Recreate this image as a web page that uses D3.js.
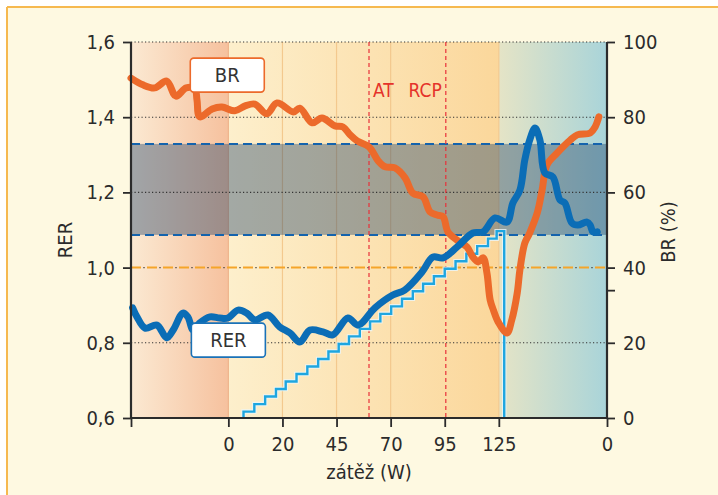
<!DOCTYPE html>
<html>
<head>
<meta charset="utf-8">
<script src="https://cdn.jsdelivr.net/npm/d3@7"></script>
<style>
  html, body { margin: 0; padding: 0; background: #ffffff; }
  svg { display: block; }
  text { font-family: "Liberation Sans Narrow", "DejaVu Sans Condensed", "Noto Sans", sans-serif; fill: #2b2b2b; }
</style>
</head>
<body>
<svg id="chart" width="718" height="495"></svg>
<script>
// ---------------- DATA ----------------
// time axis in minutes (rest phase before 0, exercise 0..5, recovery 5..7)
const xTickValues = [-1.8, 0, 1, 2, 3, 4, 5, 7];
const xTickLabels = ["", "0", "20", "45", "70", "95", "125", "0"];
const rerTicks = [0.6, 0.8, 1.0, 1.2, 1.4, 1.6];
const rerTickLabels = ["0,6", "0,8", "1,0", "1,2", "1,4", "1,6"];
const brTicks = [0, 20, 40, 60, 80, 100];
const brMinorTick = [34];

// BR (%) – orange line
const brTime = [-1.80,-1.58,-1.36,-1.14,-0.97,-0.78,-0.62,-0.58,-0.53,-0.30,-0.12,0.12,0.31,0.49,0.71,0.90,1.20,1.32,1.55,1.73,1.97,2.12,2.25,2.38,2.60,2.77,2.90,3.08,3.27,3.41,3.60,3.73,3.86,3.97,4.06,4.23,4.41,4.52,4.62,4.71,4.78,4.84,4.90,4.99,5.15,5.24,5.34,5.39,5.48,5.57,5.71,5.80,5.89,6.08,6.32,6.45,6.69,6.78,6.85];
const brValues = [90.4,88.6,87.8,89.6,85.6,87.8,87.5,84.6,80.1,82.2,82.7,81.7,83.0,83.5,80.9,83.8,81.4,82.4,78.5,79.8,77.7,77.4,75.3,73.7,72.1,68.4,66.8,66.5,63.8,59.8,58.8,54.8,54.0,53.5,49.5,47.3,45.5,42.8,41.5,42.6,38.6,31.4,28.7,25.5,22.6,26.1,33.2,39.4,46.5,49.2,54.5,60.6,67.3,70.5,73.9,75.3,75.8,77.4,80.1];

// RER – dark blue line
const rerTime = [-1.77,-1.69,-1.54,-1.32,-1.14,-1.02,-0.84,-0.75,-0.65,-0.53,-0.34,-0.16,-0.01,0.18,0.34,0.49,0.73,0.95,1.14,1.32,1.51,1.75,1.93,2.21,2.40,2.71,3.04,3.26,3.58,3.78,3.97,4.23,4.52,4.71,4.93,5.15,5.26,5.39,5.48,5.57,5.67,5.76,5.85,6.00,6.13,6.22,6.35,6.46,6.63,6.69,6.74,6.82];
const rerValues = [0.893,0.869,0.839,0.847,0.813,0.834,0.879,0.869,0.834,0.853,0.869,0.866,0.866,0.887,0.879,0.861,0.874,0.842,0.826,0.802,0.834,0.829,0.821,0.866,0.847,0.893,0.927,0.940,0.988,1.028,1.026,1.055,1.092,1.095,1.132,1.121,1.172,1.206,1.286,1.339,1.371,1.339,1.252,1.241,1.180,1.172,1.119,1.113,1.121,1.113,1.095,1.095];

// load steps (plotted on the BR % scale) – light blue stair line
const stepTimes = [0.28,0.48,0.68,0.88,1.06,1.26,1.46,1.66,1.85,2.04,2.23,2.43,2.62,2.81,3.01,3.21,3.41,3.60,3.80,4.00,4.20,4.40,4.60,4.80,4.96,5.10];
const stepLevels = [1.7,3.7,5.7,7.7,9.7,11.7,13.7,15.7,17.7,19.7,21.7,23.7,25.7,27.7,29.7,31.7,33.7,35.7,37.7,39.7,41.7,43.7,45.7,47.7,49.7,0];

// shaded RER band and reference line
const rerBand = [1.087, 1.329];
const rerRef = 1.0;
// thresholds
const thresholdNames = ["AT", "RCP"];
const thresholdTimes = [2.6, 4.02];
// phases
const phaseStarts = [-1.8, 0, 5];
const phaseEnds = [0, 5, 7];

// ---------------- CHART ----------------
const svg = d3.select("#chart");
const margin = { left: 131, right: 111, top: 42, bottom: 77 };
const W = 718, H = 495;
const x = d3.scaleLinear().domain([-1.8, 7]).range([margin.left, W - margin.right]);
const yR = d3.scaleLinear().domain([0.6, 1.6]).range([H - margin.bottom, margin.top]);
const yB = d3.scaleLinear().domain([0, 100]).range([H - margin.bottom, margin.top]);
const x0 = x.range()[0], x1 = x.range()[1], y0 = yR.range()[0], y1 = yR.range()[1];

// frame
svg.append("rect").attr("x", 7).attr("y", 7).attr("width", W - 7).attr("height", H - 7).attr("fill", "#fef9e1");
svg.append("line").attr("x1", 7).attr("x2", W).attr("y1", 7).attr("y2", 7).attr("stroke", "#f6b94f").attr("stroke-width", 2);
svg.append("line").attr("x1", 7).attr("x2", 7).attr("y1", 7).attr("y2", H).attr("stroke", "#f6b94f").attr("stroke-width", 2);

// gradients
const defs = svg.append("defs");
const gradStops = [
  ["#fbe9d2", "#f6c19e"],
  ["#fdefcc", "#fbd79b"],
  ["#e5e4c6", "#a9d4d9"]
];
gradStops.forEach((c, i) => {
  const g = defs.append("linearGradient").attr("id", "g" + i).attr("x1", "0").attr("x2", "1").attr("y1", "0").attr("y2", "0");
  g.append("stop").attr("offset", "0").attr("stop-color", c[0]);
  g.append("stop").attr("offset", "1").attr("stop-color", c[1]);
});
phaseStarts.forEach((s, i) => {
  svg.append("rect")
    .attr("x", x(s)).attr("y", y1)
    .attr("width", x(phaseEnds[i]) - x(s)).attr("height", y0 - y1)
    .attr("fill", "url(#g" + i + ")");
});
// faint phase/stage lines
[0, 1, 2, 3, 5].forEach(t => {
  svg.append("line").attr("x1", x(t)).attr("x2", x(t)).attr("y1", y1).attr("y2", y0)
    .attr("stroke", t === 0 ? "#efb48c" : "#f3c98e").attr("stroke-width", 1.2);
});

// shaded band
svg.append("rect")
  .attr("x", x0).attr("y", yR(rerBand[1]))
  .attr("width", x1 - x0).attr("height", yR(rerBand[0]) - yR(rerBand[1]))
  .attr("fill", "rgb(15,55,100)").attr("fill-opacity", 0.38);

// dotted grid
rerTicks.filter(v => v !== 0.6 && v !== 1.0).forEach(v => {
  svg.append("line").attr("x1", x0).attr("x2", x1).attr("y1", yR(v)).attr("y2", yR(v))
    .attr("stroke", "#333").attr("stroke-width", 1.1).attr("stroke-dasharray", "1.2,2.3");
});
// reference line at 1.0: orange dashes with dark dots
svg.append("line").attr("x1", x0).attr("x2", x1).attr("y1", yR(rerRef)).attr("y2", yR(rerRef))
  .attr("stroke", "#f5a52a").attr("stroke-width", 2).attr("stroke-dasharray", "10,6");
svg.append("line").attr("x1", x0).attr("x2", x1).attr("y1", yR(rerRef)).attr("y2", yR(rerRef))
  .attr("stroke", "#333").attr("stroke-width", 1.1).attr("stroke-dasharray", "1.2,14.8").attr("stroke-dashoffset", -12.4);

// band dashed borders
rerBand.forEach(v => {
  svg.append("line").attr("x1", x0).attr("x2", x1).attr("y1", yR(v)).attr("y2", yR(v))
    .attr("stroke", "#1463ad").attr("stroke-width", 2).attr("stroke-dasharray", "9,5");
});

// threshold lines
thresholdTimes.forEach((t, i) => {
  svg.append("line").attr("x1", x(t)).attr("x2", x(t)).attr("y1", y1).attr("y2", y0)
    .attr("stroke", "#e8303a").attr("stroke-width", 1.2).attr("stroke-dasharray", "4,3");
});
svg.append("text").attr("x", x(thresholdTimes[0]) + 4).attr("y", 97).attr("font-size", 19)
  .style("fill", "#e5332a").text(thresholdNames[0]);
svg.append("text").attr("x", x(thresholdTimes[1]) - 4).attr("y", 97).attr("font-size", 19)
  .attr("text-anchor", "end").style("fill", "#e5332a").text(thresholdNames[1]);

// step line (load)
const stepData = stepTimes.map((t, i) => [t, stepLevels[i]]);
stepData.unshift([stepTimes[0], 0]);
const stepLine = d3.line().x(d => x(d[0])).y(d => yB(d[1])).curve(d3.curveStepAfter);
svg.append("path").datum(stepData).attr("d", stepLine).attr("fill", "none")
  .attr("stroke", "#e8f6fb").attr("stroke-width", 4.5).attr("stroke-opacity", 0.8);
svg.append("path").datum(stepData).attr("d", stepLine).attr("fill", "none")
  .attr("stroke", "#1ea6e0").attr("stroke-width", 2.4);

// BR line
const brLine = d3.line().x((d, i) => x(brTime[i])).y(d => yB(d)).curve(d3.curveCatmullRom.alpha(0.5));
svg.append("path").datum(brValues).attr("d", brLine).attr("fill", "none")
  .attr("stroke", "#ec6a2b").attr("stroke-width", 7).attr("stroke-linejoin", "round").attr("stroke-linecap", "round");

// RER line
const rerLine = d3.line().x((d, i) => x(rerTime[i])).y(d => yR(d)).curve(d3.curveCatmullRom.alpha(0.5));
svg.append("path").datum(rerValues).attr("d", rerLine).attr("fill", "none")
  .attr("stroke", "#0b6db6").attr("stroke-width", 7).attr("stroke-linejoin", "round").attr("stroke-linecap", "round");

// axes
const axisColor = "#2b2b2b";
const leftAxis = d3.axisLeft(yR).tickValues(rerTicks).tickFormat((d, i) => rerTickLabels[i]).tickSize(8).tickPadding(8);
const gL = svg.append("g").attr("transform", `translate(${x0},0)`).call(leftAxis);
const rightAxis = d3.axisRight(yB).tickValues(brTicks.concat(brMinorTick)).tickFormat(d => brTicks.includes(d) ? d : "").tickSize(8).tickPadding(8);
const gR = svg.append("g").attr("transform", `translate(${x1},0)`).call(rightAxis);
const bottomAxis = d3.axisBottom(x).tickValues(xTickValues).tickFormat((d, i) => xTickLabels[i]).tickSize(9).tickPadding(10);
const gB = svg.append("g").attr("transform", `translate(0,${y0})`).call(bottomAxis);
[gL, gR, gB].forEach(g => {
  g.select(".domain").attr("stroke", axisColor).attr("stroke-width", 2.2);
  g.selectAll(".tick line").attr("stroke", axisColor).attr("stroke-width", 1.8);
  g.selectAll(".tick text").attr("font-size", 20).style("fill", axisColor)
    .attr("font-family", "'Liberation Sans Narrow', 'DejaVu Sans Condensed', sans-serif");
});
gL.select(".domain").attr("d", `M0,${y1}V${y0}`);
gR.select(".domain").attr("d", `M0,${y1}V${y0}`);
gB.select(".domain").attr("d", `M${x0},0H${x1}`);

// axis titles
svg.append("text").attr("transform", `translate(72,240) rotate(-90)`).attr("text-anchor", "middle")
  .attr("font-size", 20).text("RER");
svg.append("text").attr("transform", `translate(675,232) rotate(-90)`).attr("text-anchor", "middle")
  .attr("font-size", 20).text("BR (%)");
svg.append("text").attr("x", (x0 + x1) / 2).attr("y", 479).attr("text-anchor", "middle")
  .attr("font-size", 20).text("zátěž (W)");

// label boxes
function labelBox(cx, cy, label, stroke) {
  const g = svg.append("g");
  g.append("rect").attr("x", cx - 37).attr("y", cy - 17).attr("width", 74).attr("height", 34)
    .attr("rx", 3.5).attr("fill", "#ffffff").attr("stroke", stroke).attr("stroke-width", 1.6);
  g.append("text").attr("x", cx).attr("y", cy + 7).attr("text-anchor", "middle").attr("font-size", 20)
    .style("fill", "#333").text(label);
}
labelBox(x(-0.02), yB(91.2), "BR", "#ec6a2b");
labelBox(x(0.0), yR(0.807), "RER", "#1a72b8");
</script>
</body>
</html>
